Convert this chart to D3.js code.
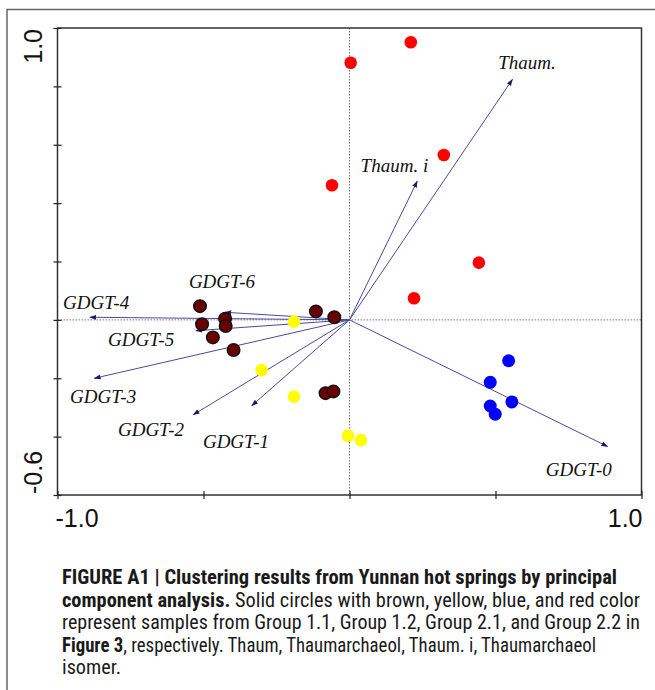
<!DOCTYPE html>
<html>
<head>
<meta charset="utf-8">
<script src="https://cdn.jsdelivr.net/npm/d3@7"></script>
<style>
  body { margin: 0; background: #fff; }
  svg { display: block; }
</style>
</head>
<body>
<div id="chart"></div>
<script>
// sample scores (PC1, PC2) per group
const brown = [
  [-0.512, 0.047], [-0.505, -0.015], [-0.426, 0.004], [-0.424, -0.021],
  [-0.468, -0.060], [-0.397, -0.103], [-0.115, 0.029], [-0.052, 0.009],
  [-0.082, -0.251], [-0.055, -0.245]
];
const yellow = [
  [-0.190, -0.006], [-0.301, -0.172], [-0.190, -0.263], [-0.005, -0.397], [0.039, -0.412]
];
const blue = [
  [0.545, -0.140], [0.482, -0.214], [0.556, -0.281], [0.482, -0.295], [0.499, -0.323]
];
const red = [
  [0.210, 0.951], [0.004, 0.881], [0.323, 0.565], [-0.060, 0.461], [0.443, 0.196], [0.221, 0.074]
];

// variable loadings and their labels
const varNames = ['Thaum.', 'Thaum. i', 'GDGT-0', 'GDGT-4', 'GDGT-6', 'GDGT-5', 'GDGT-3', 'GDGT-2', 'GDGT-1'];
const varEnds = [
  [0.558, 0.824], [0.232, 0.475], [0.884, -0.434], [-0.889, 0.009], [-0.426, 0.026],
  [-0.526, -0.037], [-0.874, -0.200], [-0.535, -0.325], [-0.335, -0.294]
];
const labelAt = [
  [0.509, 0.860], [0.038, 0.507], [0.672, -0.535], [-0.981, 0.036], [-0.550, 0.109],
  [-0.827, -0.089], [-0.957, -0.285], [-0.793, -0.398], [-0.502, -0.439]
];

const xTicks = [-1.0, -0.5, 0, 0.5, 1.0];
const yTicks = [-0.6, -0.4, -0.2, 0, 0.2, 0.4, 0.6, 0.8, 1.0];

const width = 655, height = 690;
const plot = { left: 57.5, right: 641.5, top: 28, bottom: 495 };

const svg = d3.select('#chart').append('svg')
  .attr('width', width).attr('height', height);

svg.append('rect').attr('width', width).attr('height', height).attr('fill', '#fff');

// outer figure frame (top and left edges only are visible)
svg.append('path')
  .attr('d', `M7,${height + 5} V9.5 H${width + 5}`)
  .attr('fill', 'none').attr('stroke', '#666').attr('stroke-width', 1.5);

const x = d3.scaleLinear().domain([-1, 1]).range([plot.left, plot.right]);
const y = d3.scaleLinear().domain([-0.6, 1.0]).range([plot.bottom, plot.top]);

// zero reference lines
svg.append('line')
  .attr('x1', x(0)).attr('x2', x(0)).attr('y1', plot.top).attr('y2', plot.bottom)
  .attr('stroke', '#777').attr('stroke-dasharray', '1.5,1.5');
svg.append('line')
  .attr('x1', plot.left).attr('x2', plot.right).attr('y1', y(0)).attr('y2', y(0))
  .attr('stroke', '#777').attr('stroke-dasharray', '1.5,1.5');

// frame
svg.append('rect')
  .attr('x', plot.left).attr('y', plot.top)
  .attr('width', plot.right - plot.left).attr('height', plot.bottom - plot.top)
  .attr('fill', 'none').attr('stroke', '#333').attr('stroke-width', 1.5);

// crossing ticks
const tickStyle = (g) => {
  g.select('.domain').remove();
  g.selectAll('line').attr('stroke', '#222').attr('stroke-width', 1.2);
};
svg.append('g').attr('transform', `translate(${plot.left},0)`)
  .call(d3.axisLeft(y).tickValues(yTicks).tickSize(4).tickFormat('')).call(tickStyle);
svg.append('g').attr('transform', `translate(${plot.left},0)`)
  .call(d3.axisRight(y).tickValues(yTicks).tickSize(4).tickFormat('')).call(tickStyle);
svg.append('g').attr('transform', `translate(0,${plot.bottom})`)
  .call(d3.axisBottom(x).tickValues(xTicks).tickSize(4).tickFormat('')).call(tickStyle);
svg.append('g').attr('transform', `translate(0,${plot.bottom})`)
  .call(d3.axisTop(x).tickValues(xTicks).tickSize(4).tickFormat('')).call(tickStyle);

// end labels of the axes
const axisFont = '"Liberation Sans", Arial, sans-serif';
svg.append('text').attr('x', plot.left - 2).attr('y', 527)
  .attr('font-family', axisFont).attr('font-size', 25).attr('fill', '#111')
  .text(xTicks[0].toFixed(1));
svg.append('text').attr('x', plot.right + 1).attr('y', 527)
  .attr('text-anchor', 'end')
  .attr('font-family', axisFont).attr('font-size', 25).attr('fill', '#111')
  .text(xTicks[xTicks.length - 1].toFixed(1));
svg.append('text')
  .attr('transform', `translate(42,${plot.top + 1}) rotate(-90)`)
  .attr('text-anchor', 'end')
  .attr('font-family', axisFont).attr('font-size', 25).attr('fill', '#111')
  .text(yTicks[yTicks.length - 1].toFixed(1));
svg.append('text')
  .attr('transform', `translate(42,${plot.bottom - 1}) rotate(-90)`)
  .attr('font-family', axisFont).attr('font-size', 25).attr('fill', '#111')
  .text(yTicks[0].toFixed(1));

// arrowhead
svg.append('defs').append('marker')
  .attr('id', 'head').attr('viewBox', '0 0 10 10')
  .attr('refX', 9).attr('refY', 5)
  .attr('markerWidth', 7).attr('markerHeight', 7)
  .attr('markerUnits', 'userSpaceOnUse')
  .attr('orient', 'auto')
  .append('path').attr('d', 'M0,1.5 L10,5 L0,8.5 Z').attr('fill', '#1a1a6e');

// loading vectors
svg.append('g').selectAll('line')
  .data(varEnds).enter().append('line')
  .attr('x1', x(0)).attr('y1', y(0))
  .attr('x2', (d) => x(d[0])).attr('y2', (d) => y(d[1]))
  .attr('stroke', '#4a4a9c').attr('stroke-width', 1)
  .attr('marker-end', 'url(#head)');

svg.append('g').selectAll('text')
  .data(varNames).enter().append('text')
  .attr('x', (d, i) => x(labelAt[i][0]))
  .attr('y', (d, i) => y(labelAt[i][1]))
  .attr('font-family', '"Liberation Serif", "Times New Roman", serif')
  .attr('font-style', 'italic')
  .attr('font-size', 19)
  .attr('fill', '#111')
  .text((d) => d);

// samples
const groups = [
  { pts: yellow, fill: '#ffff00', stroke: 'none', r: 6.3 },
  { pts: blue, fill: '#0000ff', stroke: 'none', r: 6.5 },
  { pts: red, fill: '#ff0000', stroke: 'none', r: 6.3 },
  { pts: brown, fill: '#6a0000', stroke: '#111', r: 6.3 }
];
groups.forEach((g) => {
  svg.append('g').selectAll('circle')
    .data(g.pts).enter().append('circle')
    .attr('cx', (d) => x(d[0])).attr('cy', (d) => y(d[1]))
    .attr('r', g.r)
    .attr('fill', g.fill)
    .attr('stroke', g.stroke).attr('stroke-width', 1.4);
});

// caption
const captionLines = [
  [['FIGURE A1 | Clustering results from Yunnan hot springs by principal', true]],
  [['component analysis.', true], [' Solid circles with brown, yellow, blue, and red color', false]],
  [['represent samples from Group 1.1, Group 1.2, Group 2.1, and Group 2.2 in', false]],
  [['Figure 3', true], [', respectively. Thaum, Thaumarchaeol, Thaum. i, Thaumarchaeol', false]],
  [['isomer.', false]]
];
const captionFits = [555, 578, 578, 534, 59];

const cap = svg.append('g')
  .attr('font-family', '"Liberation Sans Narrow", "Roboto Condensed", "Liberation Sans", sans-serif')
  .attr('font-size', 19.5).attr('fill', '#1a1a1a');
captionLines.forEach((line, i) => {
  const t = cap.append('text').attr('x', 62).attr('y', 584 + i * 22.5)
    .attr('textLength', captionFits[i]).attr('lengthAdjust', 'spacingAndGlyphs');
  line.forEach(([s, b]) => {
    t.append('tspan').attr('font-weight', b ? 'bold' : 'normal').text(s);
  });
});
</script>
</body>
</html>
